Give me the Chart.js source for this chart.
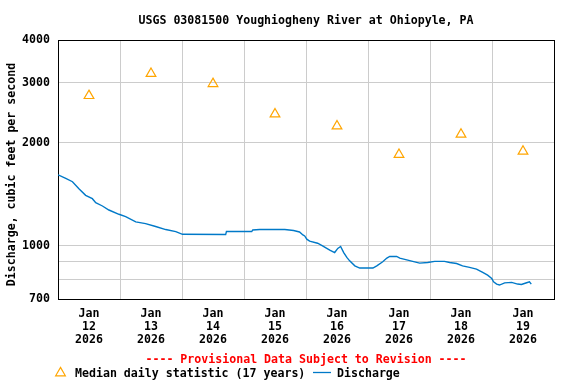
<!DOCTYPE html>
<html>
<head>
<meta charset="utf-8">
<script src="https://cdn.jsdelivr.net/npm/chart.js@4"></script>
<style>
  html, body { margin: 0; padding: 0; background: #fff; }
  #wrap { width: 576px; height: 384px; }
</style>
</head>
<body>
<div id="wrap"><canvas id="hydro" width="576" height="384"></canvas></div>
<script>
  // ---------- data ----------
  const chartTitle = "USGS 03081500 Youghiogheny River at Ohiopyle, PA";
  const yTitle = "Discharge, cubic feet per second";
  const provisionalText = "---- Provisional Data Subject to Revision ----";
  const legendMedian = "Median daily statistic (17 years)";
  const legendFlow = "Discharge";

  const monthLabel = "Jan";
  const yearLabel = "2026";
  const dayLabels = ["12", "13", "14", "15", "16", "17", "18", "19"];

  const yTicks = [700, 800, 900, 1000, 2000, 3000, 4000];
  const yLabeled = [700, 1000, 2000, 3000, 4000];

  // hours since Jan 12 00:00
  const medianHours = [12, 36, 60, 84, 108, 132, 156, 180];
  const medianCfs = [2750, 3190, 2980, 2430, 2240, 1850, 2120, 1890];

  const flowHours = [0, 3.0, 5.6, 8.1, 10.7, 13.3, 14.6, 17.2, 19.7, 23.6, 26.2, 30.1, 33.9, 37.8, 41.7, 45.6,
    48.2, 64.9, 65.2, 75.0, 75.4, 78.1, 87.8, 91.2, 93.5, 94.8, 95.5, 96.3, 97.4, 100.5, 102.4, 105.2,
    107.1, 108.3, 109.4, 110.6, 111.8, 112.9, 114.9, 116.8, 121.9, 123.4, 125.7, 127.3, 128.4, 131.1,
    132.3, 135.0, 137.3, 140.0, 143.1, 145.8, 149.6, 151.6, 154.3, 156.6, 159.3, 162.0, 164.4, 166.3,
    167.9, 168.6, 169.8, 170.9, 172.9, 175.6, 177.9, 179.4, 181.4, 182.5, 183.2];
  const flowCfs = [1615, 1576, 1541, 1471, 1406, 1375, 1339, 1309, 1274, 1238, 1219, 1176, 1163, 1140, 1117, 1102,
    1082, 1080, 1102, 1102, 1114, 1117, 1117, 1110, 1099, 1077, 1070, 1047, 1033, 1019, 1001, 973,
    957, 984, 997, 957, 926, 905, 875, 862, 862, 875, 899, 922, 932, 932,
    922, 911, 902, 891, 895, 902, 902, 895, 889, 875, 866, 856, 837, 822,
    804, 786, 774, 769, 780, 783, 774, 772, 781, 786, 774];

  // ---------- styles ----------
  const FONT = "'DejaVu Sans Mono', monospace";
  const ORANGE = "#ffa500";
  const BLUE = "#0079c8";
  const GRID = "#cccccc";

  // ---------- extra drawing: frame, title, footer, legend ----------
  const decor = {
    id: "decor",
    beforeDatasetsDraw(chart) {
      const { ctx, chartArea: a } = chart;
      ctx.save();
      ctx.strokeStyle = "#000";
      ctx.lineWidth = 1;
      ctx.strokeRect(Math.round(a.left) + 0.5, Math.round(a.top) + 0.5,
        Math.round(a.right - a.left), Math.round(a.bottom - a.top));
      ctx.restore();
    },
    afterDraw(chart) {
      const { ctx, chartArea: a } = chart;
      const mid = (a.left + a.right) / 2;
      ctx.save();
      ctx.font = "bold 11.6px " + FONT;
      ctx.fillStyle = "#000";
      ctx.textAlign = "center";
      ctx.textBaseline = "alphabetic";
      ctx.fillText(chartTitle, mid, 24);

      // y axis title
      ctx.save();
      ctx.translate(15, 174.5);
      ctx.rotate(-Math.PI / 2);
      ctx.fillText(yTitle, 0, 0);
      ctx.restore();

      ctx.fillStyle = "#ff0000";
      ctx.fillText(provisionalText, mid, 362.5);

      // legend
      ctx.textAlign = "left";
      ctx.fillStyle = "#000";
      ctx.fillText(legendMedian, 75, 377);
      ctx.fillText(legendFlow, 337, 377);

      ctx.strokeStyle = ORANGE;
      ctx.lineWidth = 1.2;
      drawTri(ctx, 60.5, 373, 5.6);

      ctx.strokeStyle = BLUE;
      ctx.lineWidth = 1.3;
      ctx.beginPath();
      ctx.moveTo(313, 372.5);
      ctx.lineTo(331, 372.5);
      ctx.stroke();
      ctx.restore();
    }
  };

  function drawTri(ctx, x, y, r) {
    let rad = 0;
    ctx.beginPath();
    for (let i = 0; i < 3; i++) {
      const px = x + Math.sin(rad) * r, py = y - Math.cos(rad) * r;
      if (i === 0) ctx.moveTo(px, py); else ctx.lineTo(px, py);
      rad += Math.PI * 2 / 3;
    }
    ctx.closePath();
    ctx.stroke();
  }

  // ---------- chart ----------
  new Chart(document.getElementById("hydro"), {
    type: "line",
    data: {
      datasets: [
        {
          label: legendMedian,
          data: medianHours.map((h, i) => ({ x: h, y: medianCfs[i] })),
          showLine: false,
          pointStyle: "triangle",
          pointRadius: 5.6,
          pointBorderWidth: 1.2,
          pointBorderColor: ORANGE,
          pointBackgroundColor: "rgba(0,0,0,0)",
          borderColor: ORANGE,
        },
        {
          label: legendFlow,
          data: flowHours.map((h, i) => ({ x: h, y: flowCfs[i] })),
          borderColor: BLUE,
          borderWidth: 1.4,
          pointRadius: 0,
          tension: 0,
          fill: false,
        },
      ],
    },
    options: {
      responsive: true,
      maintainAspectRatio: false,
      animation: false,
      layout: { padding: { top: 40, right: 22, bottom: 0, left: 0 } },
      plugins: {
        legend: { display: false },
        title: { display: false },
        tooltip: { enabled: false },
      },
      scales: {
        x: {
          type: "linear",
          min: 0,
          max: 192,
          afterBuildTicks: (s) => {
            const t = [];
            for (let v = 0; v <= 192; v += 12) t.push({ value: v });
            s.ticks = t;
          },
          afterFit: (s) => { s.height = 85; },
          border: { display: false },
          grid: {
            drawTicks: false,
            color: (c) => (c.tick && c.tick.value % 24 === 0 && c.tick.value > 0 && c.tick.value < 192) ? GRID : "rgba(0,0,0,0)",
            lineWidth: 1,
          },
          ticks: {
            autoSkip: false,
            maxRotation: 0,
            padding: 8,
            color: "#000",
            font: { family: FONT, size: 11.6, weight: "bold", lineHeight: "13px" },
            callback: (v) => {
              if (v % 24 !== 12) return "";
              const d = dayLabels[Math.floor(v / 24)];
              return [monthLabel, d, yearLabel];
            },
          },
        },
        y: {
          type: "logarithmic",
          min: 700,
          max: 4000,
          afterBuildTicks: (s) => { s.ticks = yTicks.map((v) => ({ value: v })); },
          afterFit: (s) => { s.width = 58; },
          border: { display: false },
          grid: {
            drawTicks: false,
            color: (c) => (c.tick && c.tick.value > 700 && c.tick.value < 4000) ? GRID : "rgba(0,0,0,0)",
            lineWidth: 1,
          },
          ticks: {
            padding: 8,
            color: "#000",
            font: { family: FONT, size: 11.6, weight: "bold" },
            callback: (v) => (yLabeled.includes(v) ? String(v) : ""),
          },
        },
      },
    },
    plugins: [decor],
  });
</script>
</body>
</html>
